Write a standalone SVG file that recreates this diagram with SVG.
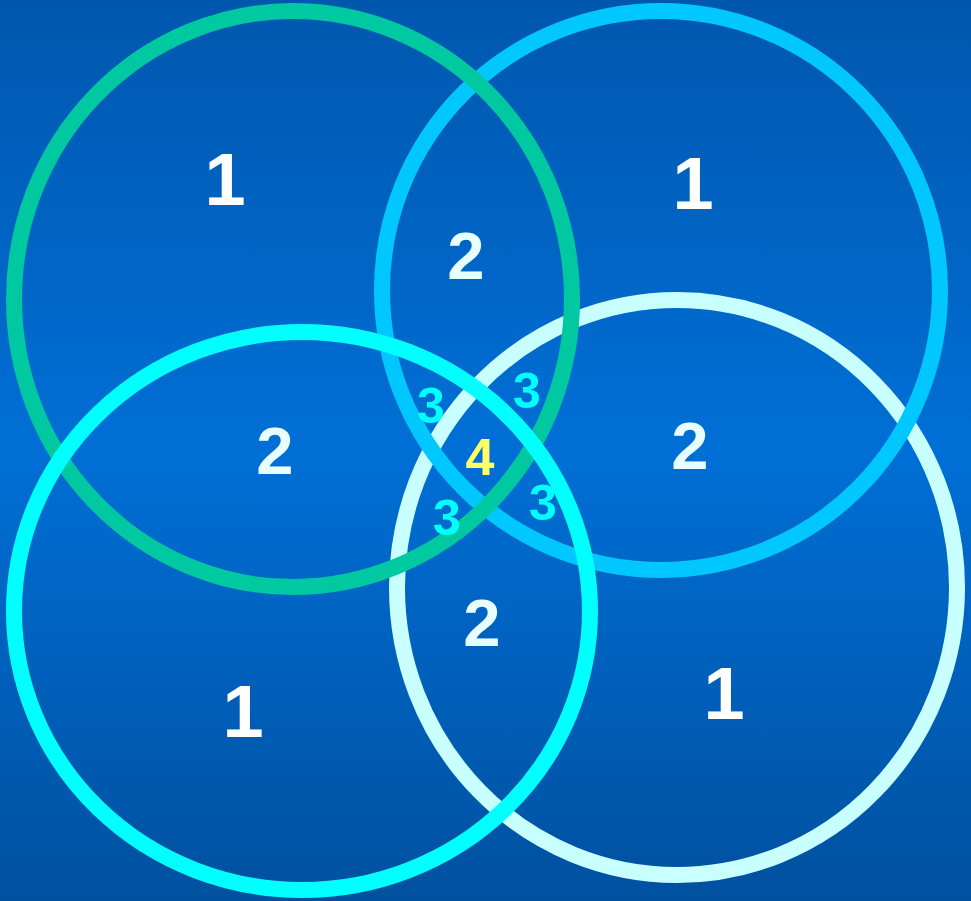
<svg xmlns="http://www.w3.org/2000/svg" width="971" height="901" viewBox="0 0 971 901">
  <defs>
    <linearGradient id="bg" x1="0" y1="0" x2="0" y2="1">
      <stop offset="0" stop-color="#0057AE"/>
      <stop offset="0.5" stop-color="#006FD6"/>
      <stop offset="1" stop-color="#00509F"/>
    </linearGradient>
  </defs>
  <style>
    .ring { fill: none; stroke-width: 16; }
    .num { font-family: "Liberation Sans", Arial, sans-serif; font-weight: bold; text-anchor: middle; }
    .n1 { fill: #FFFFFF; font-size: 74px; }
    .n2 { fill: #E8FFFF; font-size: 67px; }
    .n3 { fill: #00FFFF; font-size: 50px; }
    .n4 { fill: #FFFF66; font-size: 52px; }
  </style>
  <rect width="971" height="901" fill="url(#bg)"/>
  <g id="circles">
    <ellipse id="c-pale" class="ring" cx="677" cy="587.5" rx="280" ry="287.5" stroke="#C8FFFF"/>
    <ellipse id="c-lightblue" class="ring" cx="661" cy="290.5" rx="279" ry="279.5" stroke="#00C8FF"/>
    <ellipse id="c-green" class="ring" cx="293" cy="299" rx="279" ry="288" stroke="#00C8A0"/>
    <ellipse id="c-cyan" class="ring" cx="302" cy="611" rx="288" ry="279" stroke="#00FFFF"/>
  </g>
  <g id="labels">
    <text class="num n1" x="225" y="205">1</text>
    <text class="num n1" x="693" y="209">1</text>
    <text class="num n1" x="243" y="737">1</text>
    <text class="num n1" x="724" y="719">1</text>
    <text class="num n2" x="466" y="279">2</text>
    <text class="num n2" x="275" y="474">2</text>
    <text class="num n2" x="690" y="469">2</text>
    <text class="num n2" x="482" y="646">2</text>
    <text class="num n3" x="431" y="423">3</text>
    <text class="num n3" x="527" y="408">3</text>
    <text class="num n3" x="447" y="535">3</text>
    <text class="num n3" x="543" y="520">3</text>
    <text class="num n4" x="480" y="475">4</text>
  </g>
</svg>
